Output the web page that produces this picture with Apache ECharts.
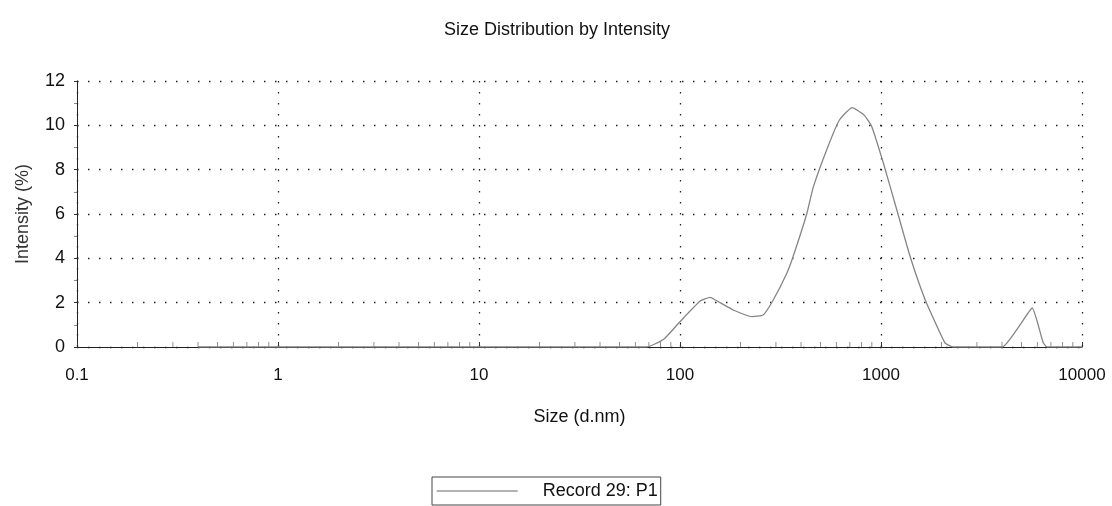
<!DOCTYPE html>
<html>
<head>
<meta charset="utf-8">
<script src="https://cdn.jsdelivr.net/npm/echarts@6/dist/echarts.min.js"></script>
<style>
html,body{margin:0;padding:0;background:#fff;}
#chart{width:1112px;height:506px;}
</style>
</head>
<body>
<div id="chart"></div>
<script>
// Size (d.nm) and intensity (%)
var sizes = [0.4, 1, 10, 68, 83, 100, 126, 141, 158, 184, 228, 259, 290, 340, 365, 427, 460, 537, 621, 718, 824, 900, 1028, 1199, 1397, 1660, 1970, 2084, 2285, 4000, 4920, 5650, 6410, 6700, 10000];
var intensities = [0, 0, 0, 0, 0.35, 1.14, 2.07, 2.24, 2.0, 1.67, 1.37, 1.44, 2.1, 3.33, 4.07, 6.0, 7.2, 8.9, 10.24, 10.8, 10.46, 9.94, 8.29, 6.18, 4.07, 2.12, 0.62, 0.18, 0, 0, 1.0, 1.76, 0.2, 0, 0];
var seriesName = 'Record 29: P1';
var xTickLabels = ['0.1', '1', '10', '100', '1000', '10000'];
var yTicks = [0, 2, 4, 6, 8, 10, 12];
var xMinorTicks = [0.2,0.3,0.4,0.5,0.6,0.7,0.8,0.9, 2,3,4,5,6,7,8,9, 20,30,40,50,60,70,80,90, 200,300,400,500,600,700,800,900, 2000,3000,4000,5000,6000,7000,8000,9000];

var lineData = sizes.map(function (s, i) { return [s, intensities[i]]; });
var minorData = xMinorTicks.map(function (v) { return [v, 0]; });

var FONT = '"Liberation Sans", Arial, sans-serif';
var chart = echarts.init(document.getElementById('chart'), null, {renderer: 'canvas'});
chart.setOption({
  animation: false,
  backgroundColor: '#fff',
  title: {
    text: 'Size Distribution by Intensity',
    left: 552, top: 16, textAlign: 'center',
    textStyle: {fontFamily: FONT, fontSize: 18, fontWeight: 'normal', color: '#111'}
  },
  grid: {left: 77, right: 30, top: 81, bottom: 159, containLabel: false},
  xAxis: {
    type: 'log', logBase: 10, min: 0.1, max: 10000,
    name: 'Size (d.nm)', nameLocation: 'middle', nameGap: 61,
    nameTextStyle: {fontFamily: FONT, fontSize: 18, color: '#111'},
    axisLine: {show: true, onZero: false, lineStyle: {color: '#222', width: 1}},
    axisTick: {show: true, inside: true, length: 5, lineStyle: {color: '#333'}},
    axisLabel: {fontFamily: FONT, fontSize: 17, color: '#111', margin: 20,
      formatter: function (v) {
        var idx = Math.round(Math.log10(v)) + 1;
        return xTickLabels[idx] !== undefined ? xTickLabels[idx] : '';
      }},
    splitLine: {show: true, lineStyle: {color: '#222', width: 1.3, type: [1.5, 9.5]}}
  },
  yAxis: {
    type: 'value', min: 0, max: 12, interval: 2,
    name: 'Intensity (%)', nameLocation: 'middle', nameGap: 45, nameRotate: 90,
    nameTextStyle: {fontFamily: FONT, fontSize: 18, color: '#333'},
    axisLine: {show: true, lineStyle: {color: '#222', width: 1}},
    axisTick: {show: true, inside: false, length: 3, lineStyle: {color: '#333'}},
    minorTick: {show: true, splitNumber: 2, length: 3, lineStyle: {color: '#888'}},
    axisLabel: {fontFamily: FONT, fontSize: 18, color: '#111', margin: 12,
      formatter: function (v) { return yTicks.indexOf(v) >= 0 ? String(v) : ''; }},
    splitLine: {show: true, lineStyle: {color: '#222', width: 1.3, type: [1.5, 9.5]}}
  },
  legend: {
    show: true, left: 432, top: 477,
    padding: [5, 3, 5, 4],
    borderColor: '#444', borderWidth: 1,
    itemWidth: 81, itemHeight: 14,
    data: [seriesName],
    itemStyle: {opacity: 0},
    lineStyle: {color: '#999', width: 1.3},
    textStyle: {fontFamily: FONT, fontSize: 18, color: '#111', padding: [0, 0, 0, 20]}
  },
  series: [
    {
      name: seriesName, type: 'line', data: lineData,
      symbol: 'none', smooth: 0.15,
      lineStyle: {color: '#858585', width: 1.3},
      itemStyle: {color: '#999'},
      z: 3
    },
    {
      name: 'minorTicks', type: 'scatter', data: minorData,
      symbol: 'rect', symbolSize: [1, 5], symbolOffset: [0, -2.5],
      itemStyle: {color: '#777'}, silent: true, z: 2
    }
  ]
});
</script>
</body>
</html>
